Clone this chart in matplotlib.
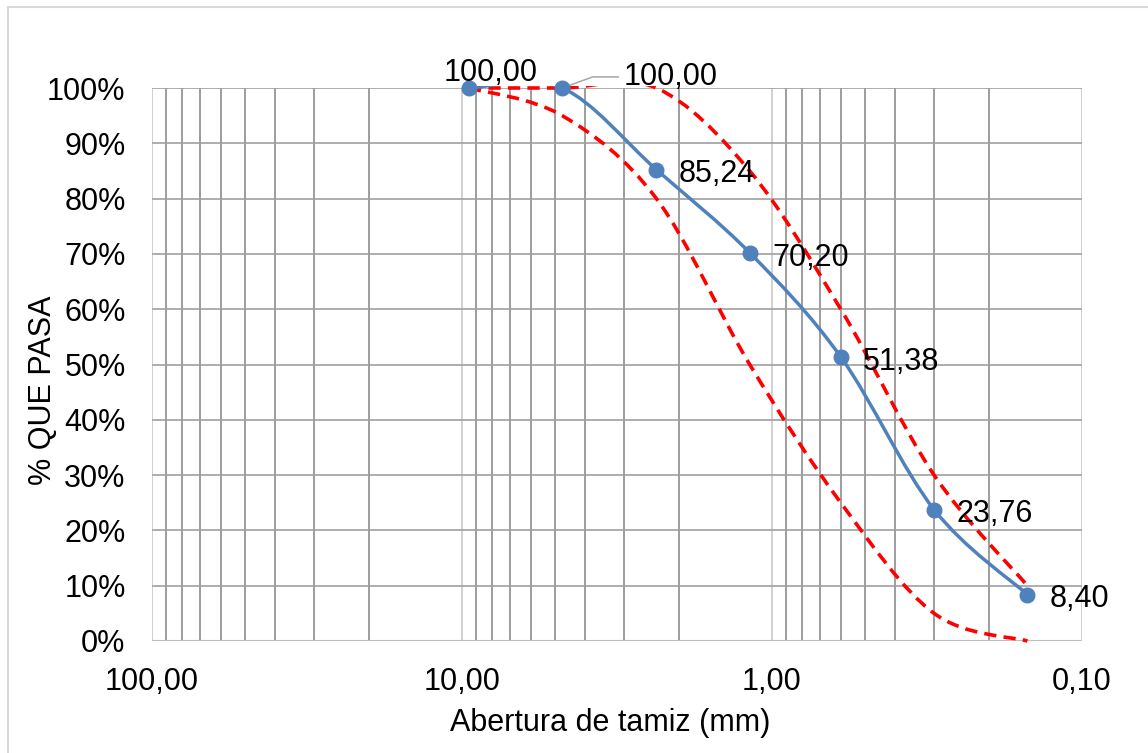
import numpy as np
import matplotlib
matplotlib.use("Agg")
import matplotlib.pyplot as plt
from matplotlib.path import Path
from matplotlib.patches import PathPatch, Rectangle
from matplotlib.ticker import FixedLocator, FixedFormatter, NullFormatter, LogLocator

# ---------------- data ----------------
sizes_mm = [9.5, 4.75, 2.36, 1.18, 0.6, 0.3, 0.15]
passing = [100.00, 100.00, 85.24, 70.20, 51.38, 23.76, 8.40]
upper_limit = [100, 100, 100, 85, 60, 30, 10]
lower_limit = [100, 95, 80, 50, 25, 5, 0]
point_labels = ["100,00", "100,00", "85,24", "70,20", "51,38", "23,76", "8,40"]

x_ticks = [100, 10, 1, 0.1]
x_tick_labels = ["100,00", "10,00", "1,00", "0,10"]
y_ticks = [0, 10, 20, 30, 40, 50, 60, 70, 80, 90, 100]
y_tick_labels = [f"{v}%" for v in y_ticks]

x_title = "Abertura de tamiz (mm)"
y_title = "% QUE PASA"

# ---------------- style ----------------
plt.rcParams["font.family"] = ["Liberation Sans", "DejaVu Sans"]
BLUE = "#4F81BD"
RED = "#FF0000"
FS = 22

W, H = 1148, 753
fig = plt.figure(figsize=(W / 100, H / 100), dpi=100)
ax = fig.add_axes([152 / W, 1 - 641 / H, 930 / W, 553 / H])


def smooth_path(xs, ys):
    """Excel-like smoothed line: Catmull-Rom Bezier segments in (log x, y) space."""
    P = np.column_stack([np.log10(np.asarray(xs, float)), np.asarray(ys, float)])
    n = len(P)
    verts = [P[0]]
    codes = [Path.MOVETO]
    for i in range(n - 1):
        p0 = P[i - 1] if i > 0 else P[i]
        p1 = P[i]
        p2 = P[i + 1]
        p3 = P[i + 2] if i + 2 < n else P[i + 1]
        c1 = p1 + (p2 - p0) / 6.0
        c2 = p2 - (p3 - p1) / 6.0
        verts += [c1, c2, p2]
        codes += [Path.CURVE4] * 3
    verts = np.array(verts)
    verts[:, 0] = 10 ** verts[:, 0]
    return Path(verts, codes)


ax.set_xscale("log")
ax.set_xlim(100, 0.1)
ax.set_ylim(0, 100)

clip_rect = Rectangle((0, -0.01), 1, 1.0135, transform=ax.transAxes)

for lim in (upper_limit, lower_limit):
    pp = PathPatch(smooth_path(sizes_mm, lim), fill=False, edgecolor=RED, lw=2.6,
                   linestyle=(0, (3.4, 2.0)), capstyle="butt", zorder=3)
    ax.add_patch(pp)
    pp.set_clip_path(clip_rect)

bp = PathPatch(smooth_path(sizes_mm, passing), fill=False, edgecolor=BLUE, lw=2.5,
               capstyle="round", joinstyle="round", zorder=4)
ax.add_patch(bp)
bp.set_clip_path(clip_rect)

ax.plot(sizes_mm, passing, "o", ms=10.5, color=BLUE, clip_on=False, zorder=6, lw=0)

# data labels
for i, (xv, yv, lab) in enumerate(zip(sizes_mm, passing, point_labels)):
    if i == 0:
        ax.annotate(lab, (xv, yv), xytext=(15.8, 10.8), textcoords="offset points",
                    ha="center", va="center", fontsize=FS, zorder=7, annotation_clip=False)
    elif i == 1:
        ax.annotate(lab, (xv, yv), xytext=(77.8, 8.0), textcoords="offset points",
                    ha="center", va="center", fontsize=FS, zorder=5, annotation_clip=False,
                    arrowprops=dict(arrowstyle="-", color="#A6A6A6", lw=1.1,
                                    relpos=(0, 0.5), shrinkA=1.5, shrinkB=0,
                                    connectionstyle="angle,angleA=0,angleB=20,rad=0"))
    else:
        ax.annotate(lab, (xv, yv), xytext=(16.0, -3.5), textcoords="offset points",
                    ha="left", va="center", fontsize=FS, zorder=7, annotation_clip=False)

# axes / grid
ax.xaxis.set_major_locator(FixedLocator(x_ticks))
ax.xaxis.set_major_formatter(FixedFormatter(x_tick_labels))
ax.xaxis.set_minor_locator(LogLocator(base=10, subs=np.arange(2, 10)))
ax.xaxis.set_minor_formatter(NullFormatter())
ax.yaxis.set_major_locator(FixedLocator(y_ticks))
ax.yaxis.set_major_formatter(FixedFormatter(y_tick_labels))

ax.set_axisbelow(True)
ax.grid(which="major", axis="x", color="#C8C8C8", lw=1.2)
ax.grid(which="minor", axis="x", color="#8C8C8C", lw=1.2)
ax.grid(which="major", axis="y", color="#A0A0A0", lw=1.2)
ax.axhline(0, color="#BFBFBF", lw=1.5, zorder=1.5)

for s in ax.spines.values():
    s.set_visible(False)

ax.tick_params(axis="both", which="both", length=0, labelsize=FS)
ax.tick_params(axis="x", pad=19)
ax.tick_params(axis="y", pad=19)

ax.set_xlabel(x_title, fontsize=FS)
ax.xaxis.set_label_coords(0.4925, -0.121)
ax.set_ylabel(y_title, fontsize=FS)
ax.yaxis.set_label_coords(-0.101, 0.454)

# chart-area border
fig.patches.append(Rectangle((8 / W, -0.1), 1.2, 1 - 7 / H + 0.1, transform=fig.transFigure,
                             fill=False, edgecolor="#D9D9D9", lw=1.5))

fig.savefig("out.png", dpi=100, facecolor="white")
